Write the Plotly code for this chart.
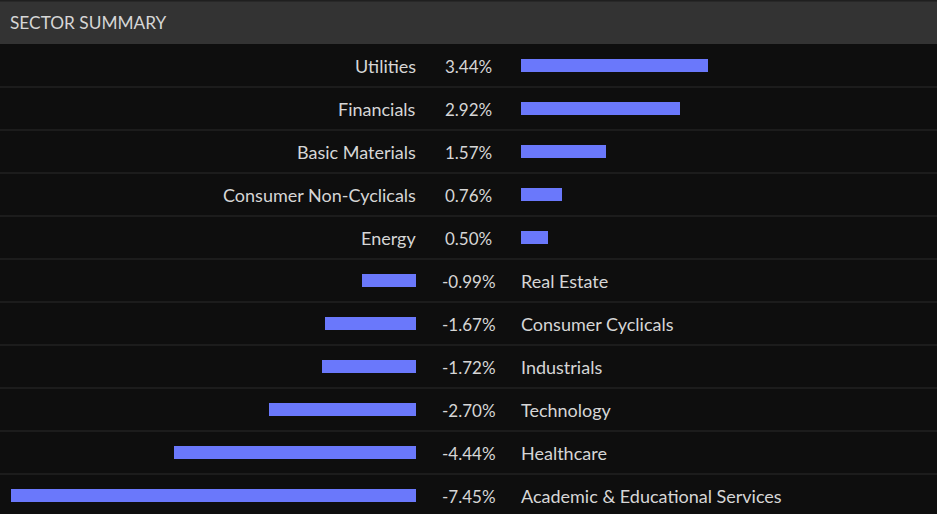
import plotly.graph_objects as go

sectors = ["Utilities", "Financials", "Basic Materials", "Consumer Non-Cyclicals", "Energy",
           "Real Estate", "Consumer Cyclicals", "Industrials", "Technology", "Healthcare",
           "Academic & Educational Services"]
changes = [3.44, 2.92, 1.57, 0.76, 0.50, -0.99, -1.67, -1.72, -2.70, -4.44, -7.45]
title = "SECTOR SUMMARY"

W, H = 937, 514
HEADER = 44
ROW = 43
BG = "#0e0e0e"
HEAD_BG = "#333333"
TXT = "#d6d6d6"
BAR = "#6a78fb"
FONT = "Lato"

rows = list(range(len(sectors)))
pos_y = [i for i, v in zip(rows, changes) if v >= 0]
pos_v = [v for v in changes if v >= 0]
neg_y = [i for i, v in zip(rows, changes) if v < 0]
neg_v = [v for v in changes if v < 0]

fig = go.Figure()
fig.add_trace(go.Bar(x=neg_v, y=neg_y, orientation="h", marker=dict(color=BAR, line=dict(width=0)),
                     width=0.28, xaxis="x", yaxis="y", hoverinfo="skip"))
fig.add_trace(go.Bar(x=pos_v, y=pos_y, orientation="h", marker=dict(color=BAR, line=dict(width=0)),
                     width=0.28, xaxis="x2", yaxis="y", hoverinfo="skip"))

scale = 54.4  # px per percent
left_edge = 416
right_edge = 521
rng = left_edge / scale

y_top = -0.5 - HEADER / ROW
y_bot = -0.5 + (H - HEADER) / ROW

annotations = []
for i, (s, v) in zip(rows, zip(sectors, changes)):
    annotations.append(dict(x=468.5 / W, xref="paper", y=i, yref="y", text=f"{v:.2f}%",
                            showarrow=False, xanchor="center", yanchor="middle", yshift=-0.5,
                            font=dict(color=TXT, size=17, family=FONT)))
    if v >= 0:
        annotations.append(dict(x=0, xref="x", y=i, yref="y", text=s, showarrow=False,
                                xanchor="right", yanchor="middle", xshift=2, yshift=-0.5,
                                font=dict(color=TXT, size=18, family=FONT)))
    else:
        annotations.append(dict(x=0, xref="x2", y=i, yref="y", text=s, showarrow=False,
                                xanchor="left", yanchor="middle", xshift=-2, yshift=-0.5,
                                font=dict(color=TXT, size=18, family=FONT)))
annotations.append(dict(x=10 / W, xref="paper", y=1 - 23 / H, yref="paper", text=title,
                        showarrow=False, xanchor="left", yanchor="middle", xshift=-2,
                        font=dict(color=TXT, size=17.3, family=FONT)))

shapes = [
    dict(type="rect", xref="paper", yref="paper", x0=0, x1=1, y0=1 - HEADER / H, y1=1,
         fillcolor=HEAD_BG, line=dict(width=0), layer="below"),
    dict(type="rect", xref="paper", yref="paper", x0=0, x1=1, y0=1 - 1.5 / H, y1=1,
         fillcolor="#1f1f1f", line=dict(width=0), layer="below"),
]
for i in rows[:-1]:
    shapes.append(dict(type="line", xref="paper", yref="y", x0=0, x1=1, y0=i + 0.5, y1=i + 0.5,
                       line=dict(color="#2a2a2a", width=1), layer="below"))

fig.update_layout(
    width=W, height=H, margin=dict(l=0, r=0, t=0, b=0),
    paper_bgcolor=BG, plot_bgcolor=BG, showlegend=False, bargap=0,
    xaxis=dict(domain=[0, left_edge / W], range=[-rng, 0], visible=False, fixedrange=True),
    xaxis2=dict(domain=[right_edge / W, 1], range=[0, (W - right_edge) / scale], visible=False,
                fixedrange=True),
    yaxis=dict(range=[y_bot, y_top], visible=False, fixedrange=True),
    annotations=annotations, shapes=shapes,
)
fig.write_html("out.html", config={"displayModeBar": False},
               post_script="document.body.style.margin='0';document.body.style.background='#0e0e0e';"
                           "document.documentElement.style.overflow='hidden';")
